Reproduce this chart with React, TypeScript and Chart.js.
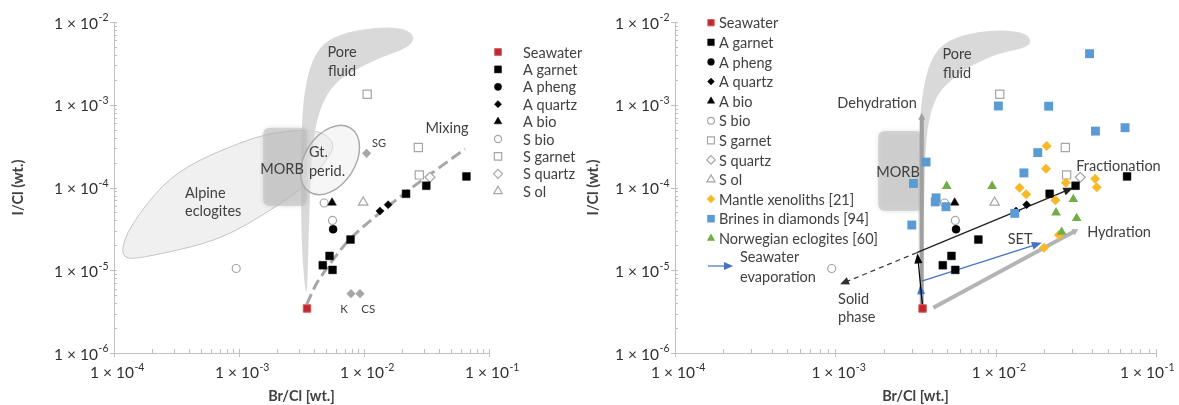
import React, { useEffect, useRef } from 'react';
import { Chart, registerables } from 'chart.js';
import { drawPoint } from 'chart.js/helpers';

Chart.register(...registerables);

type Pt = [number, number];

// ---------- axes ----------
const X_RANGE: Pt = [1e-4, 1e-1];
const Y_RANGE: Pt = [1e-6, 1e-2];
const X_DECADES = [1e-4, 1e-3, 1e-2, 1e-1];
const X_EXPONENTS = ['-4', '-3', '-2', '-1'];
const Y_DECADES = [1e-6, 1e-5, 1e-4, 1e-3, 1e-2];
const Y_EXPONENTS = ['-6', '-5', '-4', '-3', '-2'];
const X_TITLE = 'Br/Cl [wt.]';
const Y_TITLE = 'I/Cl (wt.)';

// ---------- data series (Br/Cl, I/Cl) ----------
const SEAWATER: Pt[] = [[3.5e-3, 3.45e-6]];
const A_GARNET: Pt[] = [[5.3e-3, 1.49e-5], [4.68e-3, 1.15e-5], [5.6e-3, 1.01e-5], [7.8e-3, 2.35e-5], [2.17e-2, 8.4e-5], [3.15e-2, 1.05e-4], [6.6e-2, 1.36e-4]];
const A_PHENG: Pt[] = [[5.66e-3, 3.12e-5]];
const A_QUARTZ: Pt[] = [[1.34e-2, 5.2e-5], [1.56e-2, 6.2e-5]];
const A_BIO: Pt[] = [[5.55e-3, 6.56e-5]];
const S_BIO: Pt[] = [[4.8e-3, 6.5e-5], [5.6e-3, 4.0e-5], [9.5e-4, 1.05e-5]];
const S_GARNET: Pt[] = [[1.06e-2, 1.34e-3], [2.72e-2, 3.05e-4], [2.77e-2, 1.42e-4]];
const S_QUARTZ: Pt[] = [[3.37e-2, 1.33e-4]];
const S_OL: Pt[] = [[9.85e-3, 6.6e-5]];
const REFERENCE_SG_K_CS: Pt[] = [[1.05e-2, 2.59e-4], [7.87e-3, 5.21e-6], [9.29e-3, 5.21e-6]];
const MIXING_CURVE: Pt[] = [[3.48e-3, 3.9e-6], [4.29e-3, 7.41e-6], [7.73e-3, 2.39e-5], [2.13e-2, 8.59e-5], [6.43e-2, 2.92e-4]];
const MANTLE_XENOLITHS: Pt[] = [[2.08e-2, 3.18e-4], [2.06e-2, 1.69e-4], [1.41e-2, 9.96e-5], [1.55e-2, 8.28e-5], [2.36e-2, 7.0e-5], [2.74e-2, 1.14e-4], [4.17e-2, 1.28e-4], [4.27e-2, 1.01e-4], [2.48e-2, 2.67e-5], [2.0e-2, 1.87e-5]];
const BRINES_IN_DIAMONDS: Pt[] = [[3.85e-2, 4.14e-3], [1.04e-2, 9.66e-4], [2.14e-2, 9.6e-4], [4.19e-2, 4.8e-4], [6.41e-2, 5.28e-4], [1.83e-2, 2.64e-4], [1.5e-2, 1.5e-4], [3.68e-3, 2.03e-4], [3.07e-3, 1.12e-4], [4.25e-3, 7.5e-5], [4.2e-3, 6.7e-5], [4.9e-3, 5.86e-5], [3.0e-3, 3.52e-5], [1.315e-2, 4.87e-5]];
const NORWEGIAN_ECLOGITES: Pt[] = [[4.95e-3, 1.04e-4], [9.5e-3, 1.04e-4], [3.05e-2, 7.2e-5], [2.38e-2, 4.96e-5], [3.2e-2, 4.25e-5], [2.58e-2, 2.9e-5]];

// ---------- process arrows (right panel) ----------
const DEHYDRATION: Pt[] = [[3.46e-3, 3.7e-6], [3.46e-3, 8.0e-4]];
const SEAWATER_TO_SOLID: Pt[] = [[3.5e-3, 3.7e-6], [3.25e-3, 1.6e-5]];
const SEAWATER_TO_EVAP: Pt[] = [[3.5e-3, 3.7e-6], [3.38e-3, 6.6e-6]];
const SET_PATH: Pt[] = [[3.46e-3, 7.4e-6], [1.94e-2, 2.15e-5]];
const FRACTIONATION: Pt[] = [[3.22e-3, 1.63e-5], [3.05e-2, 9.96e-5]];
const SOLID_PHASE: Pt[] = [[3.22e-3, 1.63e-5], [1.07e-3, 6.76e-6]];
const HYDRATION: Pt[] = [[4.08e-3, 3.53e-6], [3.28e-2, 3.13e-5]];

// ---------- field outlines (data space) ----------
const ALPINE_OUTLINE: Pt[] = [[1.159e-4, 1.807e-5], [1.271e-4, 2.818e-5], [1.614e-4, 4.92e-5], [2.128e-4, 8.34e-5], [2.805e-4, 1.268e-4], [4.055e-4, 1.871e-4], [6.43e-4, 2.612e-4], [1.019e-3, 3.45e-4], [1.556e-3, 4.31e-4], [2.559e-3, 4.82e-4], [3.5e-3, 4.95e-4], [4.786e-3, 4.56e-4], [5.86e-3, 3.36e-4], [5.15e-3, 2.21e-4], [3.5e-3, 1.102e-4], [2.56e-3, 7.67e-5], [1.556e-3, 4.66e-5], [8.47e-4, 2.74e-5], [4.88e-4, 2.02e-5], [2.33e-4, 1.57e-5], [1.419e-4, 1.368e-5], [1.202e-4, 1.445e-5]];
const PORE_FLUID_LEFT: Pt[] = [[3.48e-3, 3.88e-6], [3.18e-3, 1.56e-5], [3.12e-3, 9.95e-5], [3.18e-3, 6.37e-4], [3.37e-3, 1.61e-3], [3.82e-3, 3.38e-3], [4.72e-3, 5.6e-3], [7.28e-3, 7.6e-3], [1.265e-2, 8.6e-3], [2.1e-2, 8.5e-3], [2.6e-2, 6.5e-3], [2.2e-2, 4.8e-3], [1.34e-2, 3.71e-3], [8.2e-3, 2.56e-3], [5.68e-3, 1.77e-3], [4.45e-3, 9.2e-4], [3.93e-3, 4.0e-4], [3.7e-3, 9.95e-5], [3.58e-3, 1.56e-5]];
const PORE_FLUID_RIGHT: Pt[] = [[3.46e-3, 3.52e-6], [3.3e-3, 1.71e-5], [3.3e-3, 1.2e-4], [3.35e-3, 6.37e-4], [3.54e-3, 1.61e-3], [3.9e-3, 3.38e-3], [4.72e-3, 5.6e-3], [6.92e-3, 7.4e-3], [1.1e-2, 8.1e-3], [1.62e-2, 7.2e-3], [1.66e-2, 5.0e-3], [1.05e-2, 4.2e-3], [7.26e-3, 3.08e-3], [5.45e-3, 2.12e-3], [4.3e-3, 1.34e-3], [3.8e-3, 6.37e-4], [3.63e-3, 2.54e-4], [3.57e-3, 6.87e-5], [3.52e-3, 1.29e-5]];
const MORB_LEFT: Pt[] = [[1.56e-3, 5.28e-4], [3.48e-3, 5.97e-5]];
const MORB_RIGHT: Pt[] = [[1.85e-3, 4.82e-4], [3.52e-3, 5.2e-5]];
const GT_PERID_CENTER: Pt = [5.35e-3, 2.15e-4];

// ---------- styles ----------
const FONT = 'Lato, "Open Sans", "DejaVu Sans", sans-serif';
const TEXT = '#404040';
const AXIS = '#bfbfbf';
const OPEN = '#a6a6a6';

interface Mark { pointStyle: string; radius: number; fill: string; stroke: string; borderWidth: number; }
const MARK: Record<string, Mark> = {
  seawater: { pointStyle: 'rect', radius: 5.3, fill: '#c0282d', stroke: '#d2605f', borderWidth: 1 },
  aGarnet: { pointStyle: 'rect', radius: 5.5, fill: '#000000', stroke: '#000000', borderWidth: 0.5 },
  aPheng: { pointStyle: 'circle', radius: 4, fill: '#000000', stroke: '#000000', borderWidth: 0.5 },
  aQuartz: { pointStyle: 'rectRot', radius: 4, fill: '#000000', stroke: '#000000', borderWidth: 0.5 },
  aBio: { pointStyle: 'triangle', radius: 5, fill: '#000000', stroke: '#000000', borderWidth: 0.5 },
  sBio: { pointStyle: 'circle', radius: 4, fill: '#ffffff', stroke: OPEN, borderWidth: 1.2 },
  sGarnet: { pointStyle: 'rect', radius: 5.8, fill: '#ffffff', stroke: OPEN, borderWidth: 1.2 },
  sQuartz: { pointStyle: 'rectRot', radius: 5, fill: '#ffffff', stroke: OPEN, borderWidth: 1.2 },
  sOl: { pointStyle: 'triangle', radius: 5.5, fill: '#ffffff', stroke: OPEN, borderWidth: 1.2 },
  mantle: { pointStyle: 'rectRot', radius: 5, fill: '#f7b928', stroke: '#f7b928', borderWidth: 0 },
  brines: { pointStyle: 'rect', radius: 6.3, fill: '#5b9bd5', stroke: '#5b9bd5', borderWidth: 0 },
  norwegian: { pointStyle: 'triangle', radius: 5.6, fill: '#70ad47', stroke: '#70ad47', borderWidth: 0 },
  reference: { pointStyle: 'rectRot', radius: 4.6, fill: '#a6a6a6', stroke: '#a6a6a6', borderWidth: 0 },
};

interface Series { label: string; data: Pt[]; mark: Mark; }
const COMMON_SERIES: Series[] = [
  { label: 'Seawater', data: SEAWATER, mark: MARK.seawater },
  { label: 'A garnet', data: A_GARNET, mark: MARK.aGarnet },
  { label: 'A pheng', data: A_PHENG, mark: MARK.aPheng },
  { label: 'A quartz', data: A_QUARTZ, mark: MARK.aQuartz },
  { label: 'A bio', data: A_BIO, mark: MARK.aBio },
  { label: 'S bio', data: S_BIO, mark: MARK.sBio },
  { label: 'S garnet', data: S_GARNET, mark: MARK.sGarnet },
  { label: 'S quartz', data: S_QUARTZ, mark: MARK.sQuartz },
  { label: 'S ol', data: S_OL, mark: MARK.sOl },
];
const EXTRA_SERIES: Series[] = [
  { label: 'Mantle xenoliths [21]', data: MANTLE_XENOLITHS, mark: MARK.mantle },
  { label: 'Brines in diamonds [94]', data: BRINES_IN_DIAMONDS, mark: MARK.brines },
  { label: 'Norwegian eclogites [60]', data: NORWEGIAN_ECLOGITES, mark: MARK.norwegian },
];

interface Label { lines: string[]; at: Pt; align?: CanvasTextAlign; size?: number; lh?: number; }
const LEFT_LABELS: Label[] = [
  { lines: ['Pore', 'fluid'], at: [6.67e-3, 4.34e-3], lh: 19 },
  { lines: ['MORB'], at: [2.21e-3, 1.67e-4] },
  { lines: ['Gt.', 'perid.'], at: [3.63e-3, 2.69e-4], align: 'left', lh: 19 },
  { lines: ['Alpine', 'eclogites'], at: [3.7e-4, 8.59e-5], align: 'left', lh: 18 },
  { lines: ['Mixing'], at: [4.61e-2, 5.24e-4] },
  { lines: ['SG'], at: [1.32e-2, 3.45e-4], size: 11 },
  { lines: ['K'], at: [6.92e-3, 3.4e-6], size: 11.5 },
  { lines: ['CS'], at: [1.08e-2, 3.4e-6], size: 11.5 },
];
const RIGHT_LABELS: Label[] = [
  { lines: ['Pore', 'fluid'], at: [5.74e-3, 4.1e-3], lh: 19.5 },
  { lines: ['Dehydration'], at: [1.82e-3, 1.05e-3] },
  { lines: ['MORB'], at: [2.46e-3, 1.51e-4] },
  { lines: ['Fractionation'], at: [3.18e-2, 1.82e-4], align: 'left' },
  { lines: ['Hydration'], at: [3.72e-2, 2.9e-5], align: 'left' },
  { lines: ['SET'], at: [1.42e-2, 2.39e-5] },
  { lines: ['Solid', 'phase'], at: [1.04e-3, 4.5e-6], align: 'left', lh: 18 },
];

// ---------- helpers ----------
function toPx(chart: any, p: Pt): [number, number] {
  return [chart.scales.x.getPixelForValue(p[0]), chart.scales.y.getPixelForValue(p[1])];
}

function smoothClosed(ctx: CanvasRenderingContext2D, pts: [number, number][]) {
  const n = pts.length;
  const mid = (a: number[], b: number[]) => [(a[0] + b[0]) / 2, (a[1] + b[1]) / 2];
  const m0 = mid(pts[n - 1], pts[0]);
  ctx.beginPath();
  ctx.moveTo(m0[0], m0[1]);
  for (let i = 0; i < n; i++) {
    const p = pts[i];
    const m = mid(p, pts[(i + 1) % n]);
    ctx.quadraticCurveTo(p[0], p[1], m[0], m[1]);
  }
  ctx.closePath();
}

function roundRectPath(ctx: CanvasRenderingContext2D, x: number, y: number, w: number, h: number, r: number) {
  ctx.beginPath();
  ctx.moveTo(x + r, y);
  ctx.lineTo(x + w - r, y);
  ctx.quadraticCurveTo(x + w, y, x + w, y + r);
  ctx.lineTo(x + w, y + h - r);
  ctx.quadraticCurveTo(x + w, y + h, x + w - r, y + h);
  ctx.lineTo(x + r, y + h);
  ctx.quadraticCurveTo(x, y + h, x, y + h - r);
  ctx.lineTo(x, y + r);
  ctx.quadraticCurveTo(x, y, x + r, y);
  ctx.closePath();
}

function drawMorb(chart: any, box: Pt[]) {
  const ctx: CanvasRenderingContext2D = chart.ctx;
  const a = toPx(chart, box[0]);
  const b = toPx(chart, box[1]);
  ctx.save();
  ctx.shadowColor = 'rgba(0,0,0,0.18)';
  ctx.shadowBlur = 5;
  ctx.fillStyle = 'rgba(192,192,192,0.62)';
  roundRectPath(ctx, a[0], a[1], b[0] - a[0], b[1] - a[1], 7);
  ctx.fill();
  ctx.restore();
}

function drawPoreFluid(chart: any, outline: Pt[]) {
  const ctx: CanvasRenderingContext2D = chart.ctx;
  ctx.save();
  ctx.fillStyle = 'rgba(210,210,210,0.85)';
  smoothClosed(ctx, outline.map((p) => toPx(chart, p)));
  ctx.fill();
  ctx.restore();
}

function drawArrow(ctx: CanvasRenderingContext2D, a: [number, number], b: [number, number], color: string, width: number, head: number, headW: number, dash: number[] = []) {
  const ang = Math.atan2(b[1] - a[1], b[0] - a[0]);
  const c = Math.cos(ang), s = Math.sin(ang);
  ctx.save();
  ctx.strokeStyle = color;
  ctx.fillStyle = color;
  ctx.lineWidth = width;
  ctx.setLineDash(dash);
  ctx.beginPath();
  ctx.moveTo(a[0], a[1]);
  ctx.lineTo(b[0] - c * head * 0.7, b[1] - s * head * 0.7);
  ctx.stroke();
  ctx.setLineDash([]);
  if (head > 0) {
    const bx = b[0] - c * head, by = b[1] - s * head;
    ctx.beginPath();
    ctx.moveTo(b[0], b[1]);
    ctx.lineTo(bx - s * headW / 2, by + c * headW / 2);
    ctx.lineTo(bx + s * headW / 2, by - c * headW / 2);
    ctx.closePath();
    ctx.fill();
  }
  ctx.restore();
}

function drawLabels(chart: any, labels: Label[]) {
  const ctx: CanvasRenderingContext2D = chart.ctx;
  ctx.save();
  ctx.fillStyle = TEXT;
  ctx.textBaseline = 'middle';
  for (const l of labels) {
    const [x, y] = toPx(chart, l.at);
    ctx.font = `${l.size || 14.5}px ${FONT}`;
    ctx.textAlign = l.align || 'center';
    l.lines.forEach((line, i) => ctx.fillText(line, x, y + i * (l.lh || 18)));
  }
  ctx.restore();
}

function drawAxisDecor(chart: any) {
  const ctx: CanvasRenderingContext2D = chart.ctx;
  const { left, bottom } = chart.chartArea;
  const xs = chart.scales.x, ys = chart.scales.y;
  const cw = chart.width;
  ctx.save();
  ctx.strokeStyle = AXIS;
  ctx.lineWidth = 1;
  ctx.beginPath();
  for (let i = 0; i < X_DECADES.length; i++) {
    const px = Math.round(xs.getPixelForValue(X_DECADES[i])) + 0.5;
    ctx.moveTo(px, bottom - 4);
    ctx.lineTo(px, bottom + 4);
    if (i < X_DECADES.length - 1) {
      for (let m = 2; m <= 9; m++) {
        const q = Math.round(xs.getPixelForValue(m * X_DECADES[i])) + 0.5;
        ctx.moveTo(q, bottom);
        ctx.lineTo(q, bottom - 4);
      }
    }
  }
  for (let i = 0; i < Y_DECADES.length; i++) {
    const py = Math.round(ys.getPixelForValue(Y_DECADES[i])) + 0.5;
    ctx.moveTo(left - 4, py);
    ctx.lineTo(left + 3, py);
    if (i < Y_DECADES.length - 1) {
      for (let m = 2; m <= 9; m++) {
        const q = Math.round(ys.getPixelForValue(m * Y_DECADES[i])) + 0.5;
        ctx.moveTo(left, q);
        ctx.lineTo(left + 3, q);
      }
    }
  }
  ctx.stroke();

  // tick labels: "1 × 10" with superscript exponent
  ctx.fillStyle = '#303030';
  ctx.textBaseline = 'middle';
  ctx.textAlign = 'left';
  const base = '1 × 10';
  const baseFont = `15.5px ${FONT}`;
  const supFont = `10.5px ${FONT}`;
  ctx.font = baseFont;
  const wb = ctx.measureText(base).width;
  Y_DECADES.forEach((v, i) => {
    const py = ys.getPixelForValue(v);
    ctx.font = supFont;
    const ws = ctx.measureText(Y_EXPONENTS[i]).width;
    const x0 = left - 6 - ws - wb;
    ctx.font = baseFont;
    ctx.fillText(base, x0, py + 1.5);
    ctx.font = supFont;
    ctx.fillText(Y_EXPONENTS[i], x0 + wb + 0.5, py - 4);
  });
  X_DECADES.forEach((v, i) => {
    const px = xs.getPixelForValue(v);
    ctx.font = supFont;
    const ws = ctx.measureText(X_EXPONENTS[i]).width;
    let x0 = px - (wb + ws) / 2 + 3;
    if (x0 + wb + ws > cw - 5) x0 = cw - 5 - wb - ws;
    ctx.font = baseFont;
    ctx.fillText(base, x0, bottom + 20);
    ctx.font = supFont;
    ctx.fillText(X_EXPONENTS[i], x0 + wb + 0.5, bottom + 14.5);
  });
  ctx.restore();
}

function drawLegend(chart: any, items: Series[], mx: number, tx: number, y0: number, dy: number, scale: number) {
  const ctx: CanvasRenderingContext2D = chart.ctx;
  ctx.save();
  items.forEach((it, i) => {
    const y = y0 + i * dy;
    const m = it.mark;
    ctx.fillStyle = m.fill;
    ctx.strokeStyle = m.stroke;
    ctx.lineWidth = m.borderWidth;
    drawPoint(ctx, { pointStyle: m.pointStyle as any, radius: m.radius * scale, rotation: 0, borderWidth: m.borderWidth }, mx, y);
    ctx.fillStyle = TEXT;
    ctx.font = `14.5px ${FONT}`;
    ctx.textAlign = 'left';
    ctx.textBaseline = 'middle';
    ctx.fillText(it.label, tx, y + 1);
  });
  ctx.restore();
}

function makeDataset(s: Series, order: number) {
  return {
    type: 'scatter',
    label: s.label,
    data: s.data.map(([x, y]) => ({ x, y })),
    pointStyle: s.mark.pointStyle,
    pointRadius: s.mark.radius,
    backgroundColor: s.mark.fill,
    borderColor: s.mark.stroke,
    borderWidth: s.mark.borderWidth,
    order,
  };
}

function baseOptions(yWidth: number, padRight: number, yTitlePad: number) {
  const titleFont = { family: FONT, size: 14.5, weight: 'bold' as const };
  return {
    animation: false,
    responsive: false,
    maintainAspectRatio: false,
    events: [],
    layout: { padding: { left: 0, right: padRight, top: 22, bottom: 0 } },
    plugins: { legend: { display: false }, tooltip: { enabled: false } },
    scales: {
      x: {
        type: 'logarithmic', min: X_RANGE[0], max: X_RANGE[1],
        grid: { display: false, drawTicks: false },
        border: { display: true, color: AXIS, width: 1 },
        ticks: { display: false },
        title: { display: true, text: X_TITLE, color: TEXT, font: titleFont, padding: { top: 0, bottom: 0 } },
        afterFit: (s: any) => { s.height = 52; },
      },
      y: {
        type: 'logarithmic', min: Y_RANGE[0], max: Y_RANGE[1],
        grid: { display: false, drawTicks: false },
        border: { display: true, color: AXIS, width: 1 },
        ticks: { display: false },
        title: { display: true, text: Y_TITLE, color: TEXT, font: titleFont, padding: { top: yTitlePad, bottom: 0 } },
        afterFit: (s: any) => { s.width = yWidth; },
      },
    },
  };
}

function leftConfig(): any {
  const series = COMMON_SERIES;
  const drawOrder = [
    { label: 'ref', data: REFERENCE_SG_K_CS, mark: MARK.reference },
    series[8], series[7], series[6], series[5], series[4], series[2], series[3], series[1], series[0],
  ];
  const datasets: any[] = drawOrder.map((s, i) => makeDataset(s, drawOrder.length - i));
  datasets.push({
    type: 'line', label: 'Mixing', data: MIXING_CURVE.map(([x, y]) => ({ x, y })),
    borderColor: '#a6a6a6', borderWidth: 3, borderDash: [11, 5], pointRadius: 0, tension: 0.25,
    fill: false, order: 100,
  });
  const plugin = {
    id: 'leftDecor',
    beforeDatasetsDraw(chart: any) {
      const ctx: CanvasRenderingContext2D = chart.ctx;
      ctx.save();
      ctx.fillStyle = '#f0f0f0';
      ctx.strokeStyle = '#c4c4c4';
      ctx.lineWidth = 1;
      smoothClosed(ctx, ALPINE_OUTLINE.map((p) => toPx(chart, p)));
      ctx.fill();
      ctx.stroke();
      ctx.restore();
      drawPoreFluid(chart, PORE_FLUID_LEFT);
      drawMorb(chart, MORB_LEFT);
      const c = toPx(chart, GT_PERID_CENTER);
      ctx.save();
      ctx.beginPath();
      ctx.ellipse(c[0], c[1], 38, 25, -57 * Math.PI / 180, 0, Math.PI * 2);
      ctx.fillStyle = 'rgba(235,235,235,0.45)';
      ctx.fill();
      ctx.strokeStyle = '#a8a8a8';
      ctx.lineWidth = 1.4;
      ctx.stroke();
      ctx.restore();
    },
    afterDatasetsDraw(chart: any) {
      drawLabels(chart, LEFT_LABELS);
    },
    afterDraw(chart: any) {
      drawAxisDecor(chart);
      const r = chart.chartArea.right;
      drawLegend(chart, COMMON_SERIES, r + 9, r + 34, 52, 17.4, 0.9);
    },
  };
  return { type: 'scatter', data: { datasets }, options: baseOptions(114, 101, 10), plugins: [plugin] };
}

function rightConfig(): any {
  const s = COMMON_SERIES;
  const e = EXTRA_SERIES;
  const drawOrder = [s[8], s[7], s[6], s[5], s[4], s[2], s[1], s[3], e[0], e[1], e[2], s[0]];
  const datasets: any[] = drawOrder.map((d, i) => makeDataset(d, drawOrder.length - i));
  const plugin = {
    id: 'rightDecor',
    beforeDatasetsDraw(chart: any) {
      const ctx: CanvasRenderingContext2D = chart.ctx;
      drawPoreFluid(chart, PORE_FLUID_RIGHT);
      drawMorb(chart, MORB_RIGHT);
      const P = (p: Pt) => toPx(chart, p);
      drawArrow(ctx, P(DEHYDRATION[0]), P(DEHYDRATION[1]), '#a0a0a0', 4, 7, 7);
      drawArrow(ctx, P(HYDRATION[0]), P(HYDRATION[1]), '#b4b4b4', 4, 6, 7);
      drawArrow(ctx, P(SOLID_PHASE[0]), P(SOLID_PHASE[1]), '#303030', 1.2, 9, 8, [5, 4]);
      drawArrow(ctx, P(FRACTIONATION[0]), P(FRACTIONATION[1]), '#202020', 1.3, 10, 8);
      drawArrow(ctx, P(SET_PATH[0]), P(SET_PATH[1]), '#4472c4', 1.2, 10, 8);
      drawArrow(ctx, P(SEAWATER_TO_EVAP[0]), P(SEAWATER_TO_EVAP[1]), '#4472c4', 1.2, 9, 8);
      drawArrow(ctx, P(SEAWATER_TO_SOLID[0]), P(SEAWATER_TO_SOLID[1]), '#000000', 1.2, 10, 8);
    },
    afterDatasetsDraw(chart: any) {
      drawLabels(chart, RIGHT_LABELS);
    },
    afterDraw(chart: any) {
      drawAxisDecor(chart);
      const l = chart.chartArea.left;
      const items = [...COMMON_SERIES, ...EXTRA_SERIES];
      drawLegend(chart, items, l + 36, l + 44, 22.7, 19.6, 0.85);
      const ctx: CanvasRenderingContext2D = chart.ctx;
      drawArrow(ctx, [l + 33, 266], [l + 58, 266], '#4472c4', 1.2, 9, 8);
      ctx.save();
      ctx.fillStyle = TEXT;
      ctx.font = `14.5px ${FONT}`;
      ctx.textAlign = 'left';
      ctx.textBaseline = 'middle';
      ctx.fillText('Seawater', l + 65, 257);
      ctx.fillText('evaporation', l + 65, 277);
      ctx.restore();
    },
  };
  return { type: 'scatter', data: { datasets }, options: baseOptions(101, 23, 11), plugins: [plugin] };
}

export default function App() {
  const leftRef = useRef<HTMLCanvasElement>(null);
  const rightRef = useRef<HTMLCanvasElement>(null);
  useEffect(() => {
    Chart.defaults.font.family = FONT;
    const c1 = new Chart(leftRef.current as HTMLCanvasElement, leftConfig());
    const c2 = new Chart(rightRef.current as HTMLCanvasElement, rightConfig());
    return () => { c1.destroy(); c2.destroy(); };
  }, []);
  return (
    <div style={{ position: 'absolute', left: 0, top: 0, width: 1179, height: 405, background: '#ffffff', overflow: 'hidden' }}>
      <canvas ref={leftRef} width={590} height={405} style={{ position: 'absolute', left: 0, top: 0 }} />
      <canvas ref={rightRef} width={605} height={405} style={{ position: 'absolute', left: 574, top: 0 }} />
    </div>
  );
}
